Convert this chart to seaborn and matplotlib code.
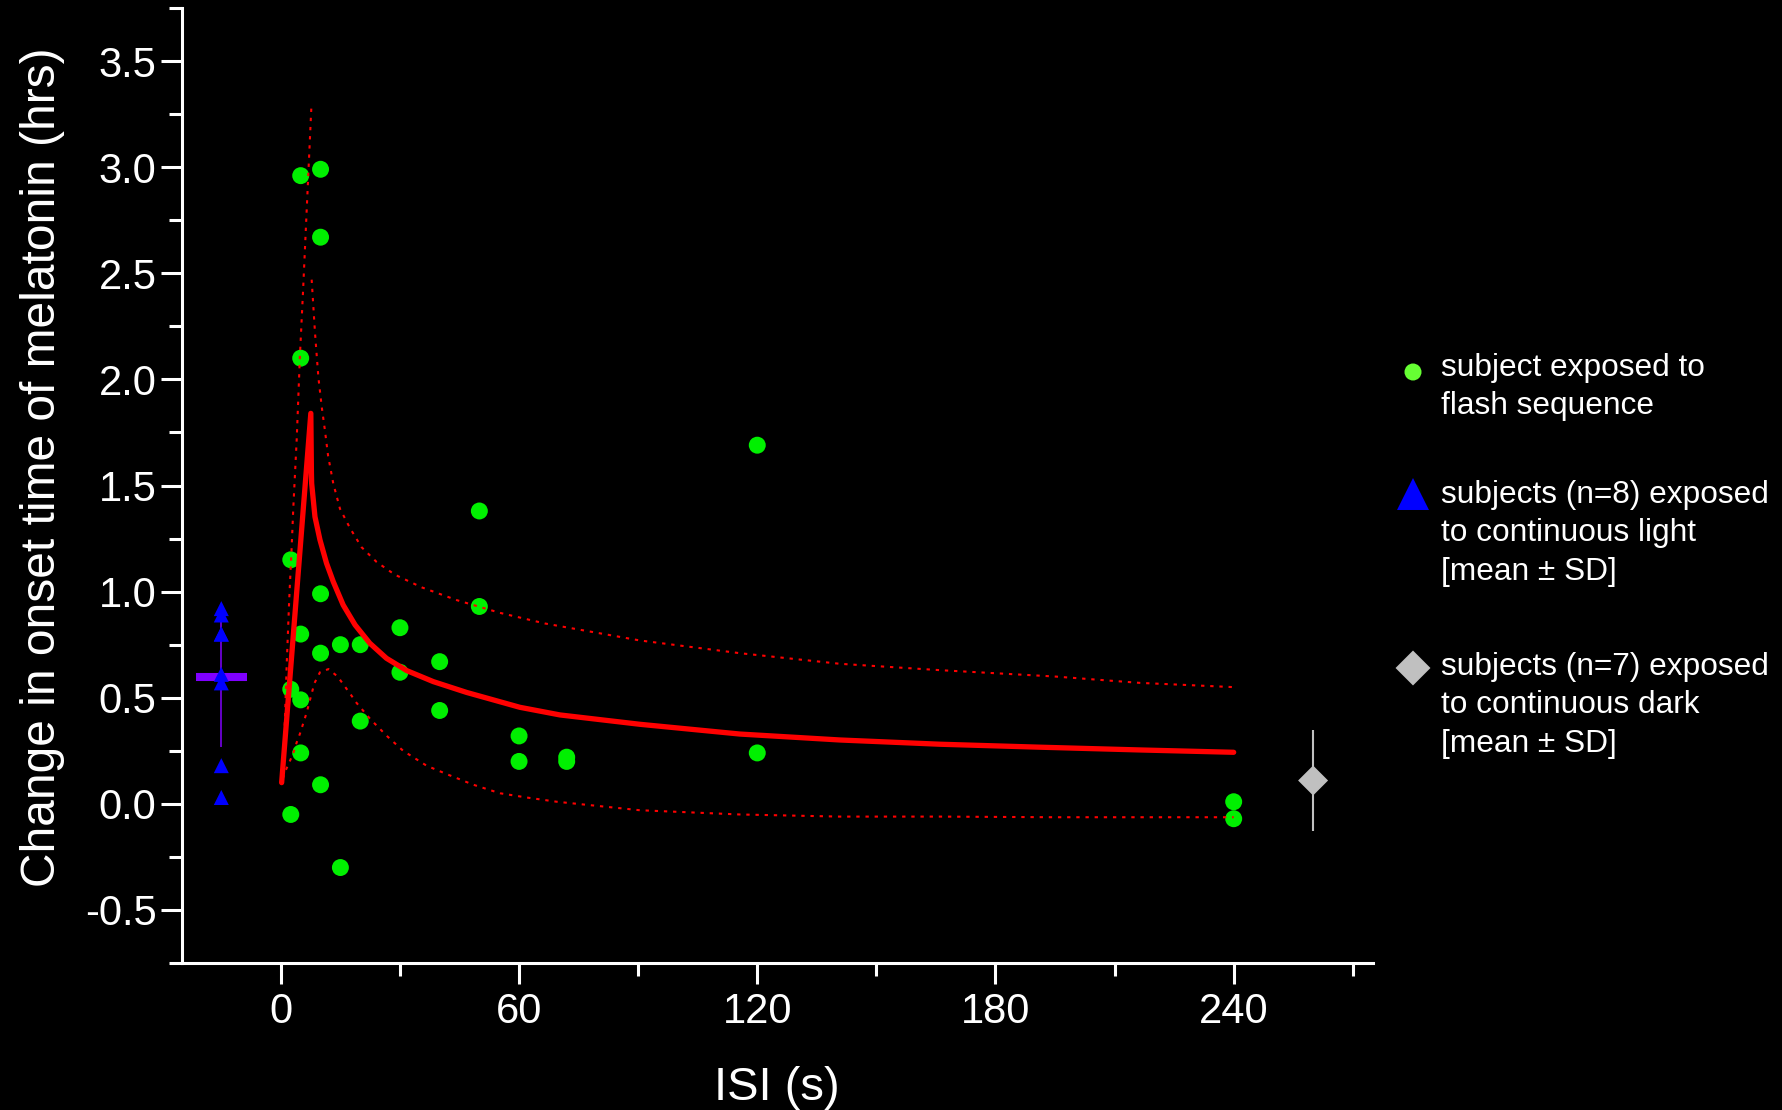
import numpy as np
import pandas as pd
import matplotlib
matplotlib.use("Agg")
import matplotlib.pyplot as plt
import seaborn as sns
from matplotlib.ticker import MultipleLocator, FormatStrFormatter

# sujetos expuestos a la secuencia de flashes: ISI (s) y cambio (h)
flash_isi = [2.5, 2.5, 2.5, 5, 5, 5, 5, 5, 10, 10, 10, 10, 10,
             15, 15, 20, 20, 30, 30, 40, 40, 50, 50, 60, 60, 72, 72,
             120, 120, 240, 240]
flash_shift = [1.15, 0.54, -0.05, 2.96, 2.10, 0.80, 0.49, 0.24,
               2.99, 2.67, 0.99, 0.71, 0.09, 0.75, -0.30, 0.75, 0.39,
               0.83, 0.62, 0.67, 0.44, 1.38, 0.93, 0.32, 0.20, 0.22, 0.20,
               1.69, 0.24, 0.01, -0.07]

# luz continua (n=8), dibujada a la izquierda del eje
light_isi = -15
light_shift = [0.92, 0.89, 0.80, 0.80, 0.61, 0.57, 0.18, 0.03]

# oscuridad continua (n=7), solo media y SD
dark_isi = 260
dark_mean = 0.11
dark_sd = 0.24

# curva ajustada
fit_isi = [0.2, 7.55, 7.7, 7.76, 8.59, 9.85, 11.5, 13.2, 15.7, 18.7, 22.4,
           26.6, 31.7, 38.4, 46.8, 53.5, 60.2, 70.3, 90.4, 115.6, 140.8,
           166, 191.2, 216.4, 240]
fit_shift = [0.10, 1.84, 1.56, 1.51, 1.353, 1.244, 1.134, 1.047, 0.937,
             0.843, 0.757, 0.686, 0.628, 0.576, 0.525, 0.49, 0.455, 0.419,
             0.375, 0.329, 0.301, 0.281, 0.267, 0.254, 0.243]

# banda superior (dos tramos) e inferior
hi_left_isi = [0.5, 0.62, 1.04, 1.46, 2.1, 2.7, 3.15, 4.0, 4.8, 5.6, 6.9, 7.7]
hi_left_shift = [0.11, 0.18, 0.41, 0.65, 0.96, 1.20, 1.40, 1.72, 2.11,
                 2.42, 2.96, 3.29]
hi_right_isi = [7.76, 8.6, 9.45, 10.3, 11.1, 11.9, 13.2, 14.9, 17.4, 20.3,
                24.1, 28.7, 35.5, 44.3, 55.2, 66.5, 90.4, 115.6, 140.8, 166,
                195, 216.4, 240]
hi_right_shift = [2.47, 2.22, 2.01, 1.87, 1.76, 1.64, 1.51, 1.39, 1.30,
                  1.21, 1.14, 1.08, 1.02, 0.96, 0.90, 0.85, 0.77, 0.71,
                  0.66, 0.63, 0.60, 0.57, 0.55]
lo_isi = [0.5, 1.03, 2.0, 3.15, 4.0, 4.8, 6.5, 7.76, 8.5, 9.85, 12.0, 14.3,
          17.6, 19.1, 22.5, 26.7, 30.8, 36.7, 41.8, 48.5, 55.2, 61.9, 69.5,
          90.4, 115.6, 140.8, 166, 195, 240]
lo_shift = [0.12, 0.15, 0.19, 0.24, 0.29, 0.33, 0.43, 0.52, 0.57, 0.62,
            0.635, 0.60, 0.515, 0.475, 0.40, 0.32, 0.25, 0.18, 0.14, 0.09,
            0.05, 0.03, 0.01, -0.03, -0.05, -0.06, -0.06, -0.063, -0.063]

legend_labels = ["subject exposed to\nflash sequence",
                 "subjects (n=8) exposed\nto continuous light\n[mean \u00b1 SD]",
                 "subjects (n=7) exposed\nto continuous dark\n[mean \u00b1 SD]"]

sns.set_theme(style="ticks", rc={
    "figure.facecolor": "black", "axes.facecolor": "black",
    "axes.edgecolor": "white", "axes.labelcolor": "white",
    "xtick.color": "white", "ytick.color": "white", "text.color": "white",
    "axes.unicode_minus": False,
})
plt.rcParams["font.family"] = ["Liberation Sans", "DejaVu Sans"]

fig = plt.figure(figsize=(17.83, 11.10), dpi=100)
ax = fig.add_axes([0.10185, 0.1324, 0.6680, 0.8604])

sns.scatterplot(x=flash_isi, y=flash_shift, ax=ax, s=149, color="#00f000",
                edgecolor="none", zorder=2, legend=False)

rojo = "#ff0000"
punteado = (0, (1.6, 2.8))
sns.lineplot(x=fit_isi, y=fit_shift, ax=ax, color=rojo, lw=3.8,
             estimator=None, sort=False, zorder=3)
for xs, ys in [(hi_left_isi, hi_left_shift), (hi_right_isi, hi_right_shift),
               (lo_isi, lo_shift)]:
    sns.lineplot(x=xs, y=ys, ax=ax, color=rojo, lw=1.5, linestyle=punteado,
                 estimator=None, sort=False, zorder=3)

# luz continua: media ± SD y los sujetos
light_mean = np.mean(light_shift)
light_sd = np.std(light_shift, ddof=1)
ax.errorbar(light_isi, light_mean, yerr=light_sd, fmt="none",
            ecolor="#8000ff", elinewidth=1.1, capsize=0, zorder=2)
ax.hlines(light_mean, light_isi - 6.4, light_isi + 6.4, colors="#8000ff",
          lw=5.8, zorder=3)
sns.scatterplot(x=[light_isi] * len(light_shift), y=light_shift, ax=ax,
                marker="^", s=117, color="#0000ff", edgecolor="none",
                zorder=4, legend=False)

# oscuridad continua
ax.errorbar(dark_isi, dark_mean, yerr=dark_sd, fmt="none",
            ecolor="#c0c0c0", elinewidth=1.5, capsize=0, zorder=2)
sns.scatterplot(x=[dark_isi], y=[dark_mean], ax=ax, marker="D", s=233,
                color="#c0c0c0", edgecolor="none", zorder=4, legend=False)

ax.set_xlim(-25, 275)
ax.set_ylim(-0.75, 3.75)
sns.despine(ax=ax)
for lado in ["left", "bottom"]:
    ax.spines[lado].set_linewidth(2.2)
ax.xaxis.set_major_locator(MultipleLocator(60))
ax.xaxis.set_minor_locator(MultipleLocator(30))
ax.yaxis.set_major_locator(MultipleLocator(0.5))
ax.yaxis.set_minor_locator(MultipleLocator(0.25))
ax.yaxis.set_major_formatter(FormatStrFormatter("%.1f"))
ax.tick_params(which="major", direction="out", length=15, width=2.2, pad=4)
ax.tick_params(which="minor", direction="out", length=9.4, width=2.2)
ax.tick_params(axis="x", labelsize=30, pad=6)
ax.tick_params(axis="y", labelsize=30, pad=3)

ax.set_xlabel("ISI (s)", fontsize=34)
ax.set_ylabel("Change in onset time of melatonin (hrs)", fontsize=34.5)
ax.xaxis.set_label_coords(0.5, -0.108)
ax.yaxis.set_label_coords(-0.098, 0.519)

# leyenda a mano, en píxeles de la figura
leg = fig.add_axes([0, 0, 1, 1])
leg.set_xlim(0, 1783)
leg.set_ylim(1110, 0)
leg.axis("off")
leg.patch.set_alpha(0)
leg.scatter([1413], [372], s=150, marker="o", color="#66ff33", edgecolors="none")
leg.scatter([1413], [494], s=530, marker="^", color="#0000ff", edgecolors="none")
leg.scatter([1413], [668], s=317, marker="D", color="#c0c0c0", edgecolors="none")
for base, etiqueta in zip([376, 503, 675], legend_labels):
    for i, linea in enumerate(etiqueta.split("\n")):
        leg.text(1441, base + i * 38.3, linea, fontsize=22.8, ha="left",
                 va="baseline", color="white")

fig.savefig("out.png", dpi=100, facecolor="black")
